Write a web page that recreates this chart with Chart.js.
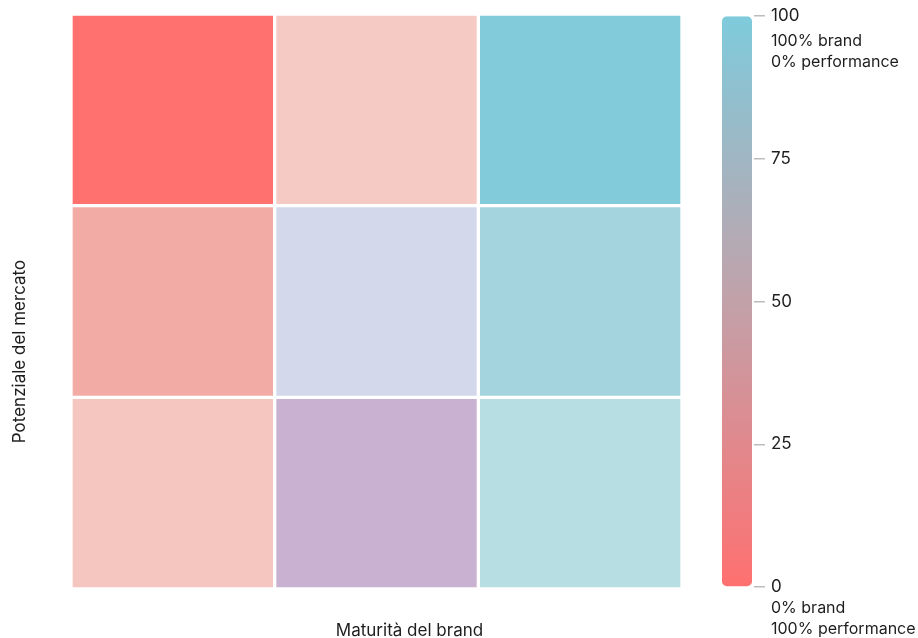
<!DOCTYPE html>
<html lang="it">
<head>
<meta charset="utf-8">
<title>Potenziale del mercato × Maturità del brand</title>
<script src="https://cdn.jsdelivr.net/npm/chart.js@4.4.1/dist/chart.umd.min.js"></script>
<style>
  html, body { margin: 0; padding: 0; background: #ffffff; }
  #wrap { position: relative; width: 918px; height: 638px; }
  #matrixBox { position: absolute; left: 0; top: 0; width: 700px; height: 638px; }
  #scaleBox { position: absolute; left: 700px; top: 0; width: 218px; height: 638px; }
</style>
</head>
<body>
<div id="wrap">
  <div id="matrixBox"><canvas id="matrix"></canvas></div>
  <div id="scaleBox"><canvas id="legendScale"></canvas></div>
</div>
<script>
// Columns: brand maturity (left → right)
const maturityLevels = ['Bassa', 'Media', 'Alta'];
// Rows: market potential (bottom → top)
const potentialLevels = ['Basso', 'Medio', 'Alto'];

// Brand share (%) of the brand/performance mix for each cell, per row, left → right
const brandShareBasso = [20, 45, 70];
const brandShareMedio = [10, 55, 80];
const brandShareAlto = [0, 20, 100];

// Colour-scale ticks
const scaleTicks = [0, 25, 50, 75, 100];
const scaleTopNote = ['100% brand', '0% performance'];
const scaleBottomNote = ['0% brand', '100% performance'];

// Cell fills, per row, left → right
const fillBasso = ['#f5c6bf', '#c9b1d1', '#b7dee3'];
const fillMedio = ['#f2aca5', '#d3d9eb', '#a4d5df'];
const fillAlto = ['#ff716e', '#f5cac4', '#82cbdb'];

const FONT = 'Inter, "Noto Sans", "DejaVu Sans", sans-serif';
const TEXT = '#1e1e1e';

const rowShares = [brandShareBasso, brandShareMedio, brandShareAlto];
const rowFills = [fillBasso, fillMedio, fillAlto];

// One floating-bar dataset per row; each bar spans [row, row + 1]
const matrixDatasets = potentialLevels.map((level, r) => ({
  label: 'Potenziale ' + level,
  data: rowShares[r].map(() => [r, r + 1]),
  shares: rowShares[r],
  backgroundColor: rowFills[r],
  borderColor: '#ffffff',
  borderWidth: 2,
  borderSkipped: false,
  grouped: false,
  barPercentage: 1,
  categoryPercentage: 1
}));

const axisTitles = {
  id: 'axisTitles',
  afterDraw(chart) {
    const { ctx, chartArea } = chart;
    ctx.save();
    ctx.fillStyle = TEXT;
    ctx.font = '17px ' + FONT;
    ctx.textAlign = 'center';
    ctx.textBaseline = 'middle';
    ctx.fillText('Maturità del brand', (chartArea.left + chartArea.right) / 2 + 33, 631);
    ctx.translate(20, (chartArea.top + chartArea.bottom) / 2 + 50);
    ctx.rotate(-Math.PI / 2);
    ctx.fillText('Potenziale del mercato', 0, 0);
    ctx.restore();
  }
};

new Chart(document.getElementById('matrix'), {
  type: 'bar',
  data: { labels: maturityLevels, datasets: matrixDatasets },
  options: {
    responsive: true,
    maintainAspectRatio: false,
    animation: false,
    layout: { padding: { left: 71, right: 18, top: 14, bottom: 49 } },
    scales: {
      x: { display: false },
      y: { display: false, min: 0, max: potentialLevels.length }
    },
    plugins: {
      legend: { display: false },
      tooltip: {
        callbacks: {
          title: (items) => 'Maturità ' + items[0].label,
          label: (item) => item.dataset.label + ': ' + item.dataset.shares[item.dataIndex] + '% brand'
        }
      }
    }
  },
  plugins: [axisTitles]
});

// Colour scale: a single gradient bar from 0 to 100 with its own axis
const scaleNotes = {
  id: 'scaleNotes',
  afterDraw(chart) {
    const { ctx } = chart;
    const y = chart.scales.y;
    const x = y.left + 17;
    ctx.save();
    ctx.fillStyle = TEXT;
    ctx.font = '16px ' + FONT;
    ctx.textAlign = 'left';
    ctx.textBaseline = 'middle';
    const top = y.getPixelForValue(scaleTicks[scaleTicks.length - 1]);
    scaleTopNote.forEach((t, i) => ctx.fillText(t, x, top + 25 + i * 21));
    const bottom = y.getPixelForValue(scaleTicks[0]);
    scaleBottomNote.forEach((t, i) => ctx.fillText(t, x, bottom + 21 + i * 21));
    ctx.restore();
  }
};

new Chart(document.getElementById('legendScale'), {
  type: 'bar',
  data: {
    labels: ['scala'],
    datasets: [{
      data: [[scaleTicks[0], scaleTicks[scaleTicks.length - 1]]],
      backgroundColor(context) {
        const area = context.chart.chartArea;
        if (!area) return '#c0a0a8';
        const g = context.chart.ctx.createLinearGradient(0, area.bottom, 0, area.top);
        g.addColorStop(0, '#ff7070');
        g.addColorStop(0.5, '#c2a1a9');
        g.addColorStop(1, '#7ecbdc');
        return g;
      },
      borderWidth: 0,
      borderRadius: 5,
      borderSkipped: false,
      barPercentage: 30 / 34,
      categoryPercentage: 1
    }]
  },
  options: {
    responsive: true,
    maintainAspectRatio: false,
    animation: false,
    layout: { padding: { left: 20, right: 0, top: 16, bottom: 51 } },
    scales: {
      x: { display: false },
      y: {
        position: 'right',
        min: scaleTicks[0],
        max: scaleTicks[scaleTicks.length - 1],
        afterBuildTicks(scale) { scale.ticks = scaleTicks.map(v => ({ value: v })); },
        afterFit(scale) { scale.width = 164; },
        border: { display: false },
        grid: {
          drawOnChartArea: false,
          drawTicks: true,
          tickLength: 11,
          tickColor: '#bdbdbd',
          lineWidth: 1.5
        },
        ticks: {
          padding: 6,
          color: TEXT,
          font: { family: FONT, size: 17 }
        }
      }
    },
    plugins: { legend: { display: false }, tooltip: { enabled: false } }
  },
  plugins: [scaleNotes]
});
</script>
</body>
</html>
